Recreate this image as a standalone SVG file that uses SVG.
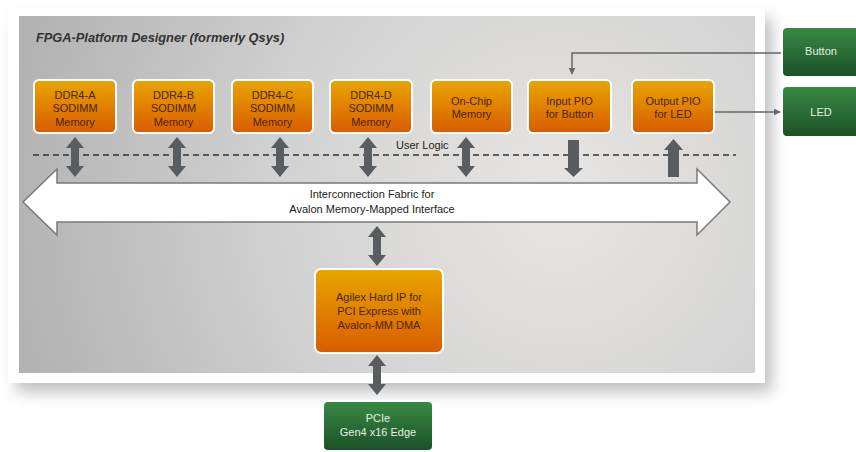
<svg xmlns="http://www.w3.org/2000/svg" width="856" height="452" viewBox="0 0 856 452">
<defs>
<style>
.orange{fill:url(#og);stroke:#fff;stroke-width:2}
.green{fill:url(#gg);stroke:#fff;stroke-width:2}
.ot{font-family:"Liberation Sans",Arial,sans-serif;font-size:11px;fill:#4e2200;text-anchor:middle}
.gt{font-family:"Liberation Sans",Arial,sans-serif;font-size:11px;fill:#e2f0e2;text-anchor:middle}
.lbl{font-family:"Liberation Sans",Arial,sans-serif;font-size:11px;fill:#222}
.dark{fill:#5a5d60}
.wire{fill:none;stroke:#666;stroke-width:1.5}
</style>
<linearGradient id="og" x1="0" y1="0" x2="0" y2="1">
<stop offset="0" stop-color="#e9a600"/>
<stop offset="1" stop-color="#d85c00"/>
</linearGradient>
<linearGradient id="gg" x1="0" y1="0" x2="0" y2="1">
<stop offset="0" stop-color="#3a8a46"/>
<stop offset="1" stop-color="#1a5026"/>
</linearGradient>
<radialGradient id="pg" cx="560" cy="200" r="560" gradientUnits="userSpaceOnUse">
<stop offset="0" stop-color="#e8e6e4"/>
<stop offset="0.5" stop-color="#d2d2d2"/>
<stop offset="1" stop-color="#b2b2b2"/>
</radialGradient>
<filter id="sh" x="-10%" y="-10%" width="130%" height="140%">
<feGaussianBlur stdDeviation="8"/>
</filter>
<marker id="ah" viewBox="0 0 10 10" refX="9" refY="5" markerWidth="7" markerHeight="7" orient="auto" markerUnits="userSpaceOnUse">
<path d="M0,0 L10,5 L0,10 Z" fill="#666"/>
</marker>
<path id="dbl" d="M0,0 L9,11 L4,11 L4,29 L9,29 L0,40 L-9,29 L-4,29 L-4,11 L-9,11 Z"/>
</defs>

<rect width="856" height="452" fill="#fff"/>
<!-- panel -->
<rect x="16" y="18" width="756" height="374" fill="#000" opacity="0.25" filter="url(#sh)"/>
<rect x="8" y="8" width="757" height="375" fill="#fff"/>
<rect x="19" y="16" width="736" height="357" fill="url(#pg)"/>
<text x="36" y="42" font-family="Liberation Sans,Arial,sans-serif" font-size="12.8" font-weight="bold" font-style="italic" fill="#333">FPGA-Platform Designer (formerly Qsys)</text>

<!-- dashed user logic line -->
<line x1="33" y1="155" x2="736" y2="155" stroke="#333" stroke-width="1.5" stroke-dasharray="6,4"/>
<text class="lbl" x="396" y="149">User Logic</text>

<g id="connectors">
<use href="#dbl" class="dark" x="75" y="137"/>
<use href="#dbl" class="dark" x="177" y="137"/>
<use href="#dbl" class="dark" x="280" y="137"/>
<use href="#dbl" class="dark" x="368" y="137"/>
<use href="#dbl" class="dark" x="466" y="137"/>
<path class="dark" d="M568,140 L579,140 L579,168 L583,168 L573.5,177 L564,168 L568,168 Z"/>
<path class="dark" d="M668,177 L679,177 L679,150 L683,150 L673.5,139 L664,150 L668,150 Z"/>
<use href="#dbl" class="dark" x="377" y="226"/>
<use href="#dbl" class="dark" x="377" y="355"/>
<path class="wire" d="M782,53 L572,53 L572,74" marker-end="url(#ah)"/>
<path class="wire" d="M714,112 L780,112" marker-end="url(#ah)"/>
</g>

<g id="fabric">
<path d="M23,202 L57,169 L57,183 L697,183 L697,169 L730,202 L697,235 L697,222 L57,222 L57,235 Z" fill="#fff" stroke="#7a7a7a" stroke-width="1.5"/>
<text class="lbl" x="372" y="198" text-anchor="middle">Interconnection Fabric for</text>
<text class="lbl" x="372" y="213" text-anchor="middle">Avalon Memory-Mapped Interface</text>
</g>

<g id="ddr4a">
<rect x="34" y="80" width="82" height="53" rx="5" class="orange"/>
<text class="ot" x="75" y="99">DDR4-A</text><text class="ot" x="75" y="112">SODIMM</text><text class="ot" x="75" y="126">Memory</text>
</g>
<g id="ddr4b">
<rect x="133" y="80" width="81" height="53" rx="5" class="orange"/>
<text class="ot" x="173.5" y="99">DDR4-B</text><text class="ot" x="173.5" y="112">SODIMM</text><text class="ot" x="173.5" y="126">Memory</text>
</g>
<g id="ddr4c">
<rect x="232" y="80" width="81" height="53" rx="5" class="orange"/>
<text class="ot" x="272.5" y="99">DDR4-C</text><text class="ot" x="272.5" y="112">SODIMM</text><text class="ot" x="272.5" y="126">Memory</text>
</g>
<g id="ddr4d">
<rect x="330" y="80" width="82" height="53" rx="5" class="orange"/>
<text class="ot" x="371" y="99">DDR4-D</text><text class="ot" x="371" y="112">SODIMM</text><text class="ot" x="371" y="126">Memory</text>
</g>
<g id="onchip">
<rect x="431" y="80" width="81" height="53" rx="5" class="orange"/>
<text class="ot" x="471.5" y="105">On-Chip</text><text class="ot" x="471.5" y="118">Memory</text>
</g>
<g id="inputpio">
<rect x="528" y="80" width="83" height="53" rx="5" class="orange"/>
<text class="ot" x="569.5" y="105">Input PIO</text><text class="ot" x="569.5" y="118">for Button</text>
</g>
<g id="outputpio">
<rect x="632" y="80" width="82" height="53" rx="5" class="orange"/>
<text class="ot" x="673" y="105">Output PIO</text><text class="ot" x="673" y="118">for LED</text>
</g>
<g id="agilex">
<rect x="315" y="269" width="128" height="84" rx="6" class="orange"/>
<text class="ot" x="379" y="301">Agilex Hard IP for</text><text class="ot" x="379" y="315">PCI Express with</text><text class="ot" x="379" y="329">Avalon-MM DMA</text>
</g>
<g id="pcie">
<rect x="323" y="401" width="110" height="50" rx="5" class="green"/>
<text class="gt" x="378" y="422">PCIe</text><text class="gt" x="378" y="436">Gen4 x16 Edge</text>
</g>
<g id="button">
<rect x="782" y="27" width="84" height="50" rx="5" class="green"/>
<text class="gt" x="821" y="55">Button</text>
</g>
<g id="led">
<rect x="782" y="86" width="84" height="51" rx="5" class="green"/>
<text class="gt" x="821" y="116">LED</text>
</g>
</svg>
